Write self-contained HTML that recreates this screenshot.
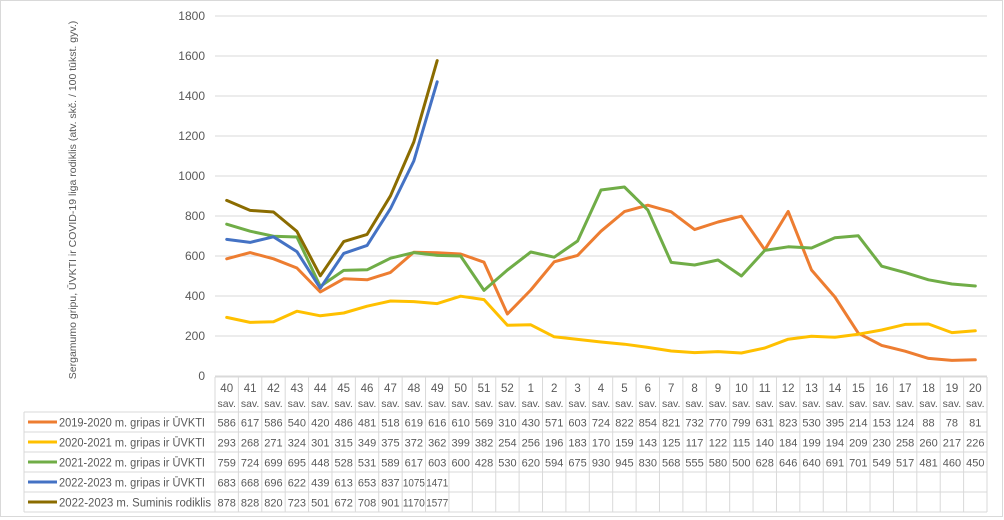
<!DOCTYPE html>
<html><head><meta charset="utf-8">
<style>
body{margin:0;background:#fff;}
#wrap{position:relative;width:1004px;height:520px;overflow:hidden;background:#fff;}
svg text{font-family:"Liberation Sans",sans-serif;fill:#595959;}
</style></head>
<body>
<div id="wrap">
<svg id="chart" width="1004" height="520"></svg>
</div>
<script>
const categories=["40","41","42","43","44","45","46","47","48","49","50","51","52","1","2","3","4","5","6","7","8","9","10","11","12","13","14","15","16","17","18","19","20"];
const s1920=[586,617,586,540,420,486,481,518,619,616,610,569,310,430,571,603,724,822,854,821,732,770,799,631,823,530,395,214,153,124,88,78,81];
const s2021=[293,268,271,324,301,315,349,375,372,362,399,382,254,256,196,183,170,159,143,125,117,122,115,140,184,199,194,209,230,258,260,217,226];
const s2122=[759,724,699,695,448,528,531,589,617,603,600,428,530,620,594,675,930,945,830,568,555,580,500,628,646,640,691,701,549,517,481,460,450];
const s2223=[683,668,696,622,439,613,653,837,1075,1471];
const s2223sum=[878,828,820,723,501,672,708,901,1170,1577];
const seriesNames=["2019-2020 m. gripas ir ŪVKTI","2020-2021 m. gripas ir ŪVKTI","2021-2022 m. gripas ir ŪVKTI","2022-2023 m. gripas ir ŪVKTI","2022-2023 m. Suminis rodiklis"];
const yTicks=[0,200,400,600,800,1000,1200,1400,1600,1800];

const series=[s1920,s2021,s2122,s2223,s2223sum];
const colors=["#ED7D31","#FFC000","#70AD47","#4472C4","#8B6C00"];
const keys=["2019-2020","2020-2021","2021-2022","2022-2023","2022-2023-suminis"];
const NS="http://www.w3.org/2000/svg";
const svg=document.getElementById("chart");
const X0=215,X1=987,Y0=376,Y1=16,YMAX=1800;
const cw=(X1-X0)/categories.length;
const xs=i=>X0+cw*(i+0.5);
const ys=v=>Y0-(v/YMAX)*(Y0-Y1);
function mk(tag,attrs){const e=document.createElementNS(NS,tag);for(const k in attrs)e.setAttribute(k,attrs[k]);svg.appendChild(e);return e;}

let ob=mk("rect",{x:0.5,y:0.5,width:1002,height:516,fill:"none",stroke:"#d9d9d9"});



yTicks.forEach(t=>{
  const g=mk("line",{x1:X0,x2:X1,y1:ys(t),y2:ys(t),stroke:"#d9d9d9","stroke-width":1});
  
  
  const tx=mk("text",{x:205,y:ys(t)+4,"text-anchor":"end","font-size":"12"});
  tx.textContent=t;
  
  
});

const yt=mk("text",{x:0,y:0,"font-size":"10.5",transform:"translate(76,200) rotate(-90)","text-anchor":"middle"});
yt.textContent="Sergamumo gripu, ŪVKTI ir COVID-19 liga rodiklis (atv. skč. / 100 tūkst. gyv.)";



series.forEach((s,k)=>{
  const pts=s.map((v,i)=>xs(i).toFixed(1)+","+ys(v).toFixed(1)).join(" ");
  const pl=mk("polyline",{points:pts,fill:"none",stroke:colors[k],"stroke-width":3,"stroke-linejoin":"round","stroke-linecap":"round"});
  
  
});

const TOP=377,HDR=412,RH=20,LX=24;
function ln(x1,y1,x2,y2,name){const l=mk("line",{x1,y1,x2,y2,stroke:"#d9d9d9","stroke-width":1});}
ln(X0,TOP,X1,TOP,'table-top-border');
for(let r=0;r<=series.length;r++){ln(LX,HDR+r*RH,X1,HDR+r*RH,'table-row-line');}
ln(LX,HDR,LX,HDR+series.length*RH,'table-left-border');
for(let i=0;i<=categories.length;i++){ln(X0+i*cw,TOP,X0+i*cw,HDR+series.length*RH,'table-col-line');}
categories.forEach((c,i)=>{
  const t1=mk("text",{x:xs(i),y:TOP+15,"text-anchor":"middle","font-size":"11.5"});t1.textContent=c;
  
  
  const t2=mk("text",{x:xs(i),y:TOP+30,"text-anchor":"middle","font-size":"10.5"});t2.textContent="sav.";
  
  
});
series.forEach((s,k)=>{
  const yy=HDR+k*RH;
  const lk=mk("line",{x1:28,x2:57,y1:yy+10,y2:yy+10,stroke:colors[k],"stroke-width":3});
  
  
  const lt=mk("text",{x:59,y:yy+14.5,"font-size":"11.5",textLength:(k==4?152:146),lengthAdjust:"spacingAndGlyphs"});lt.textContent=seriesNames[k];
  
  
  s.forEach((v,i)=>{
    const attrs={x:xs(i),y:yy+14.5,"text-anchor":"middle","font-size":"11"};
    if(String(v).length>3){attrs.textLength=22;attrs.lengthAdjust="spacingAndGlyphs";}
    const vt=mk("text",attrs);vt.textContent=v;
    
    
  });
});
</script>
</body></html>
